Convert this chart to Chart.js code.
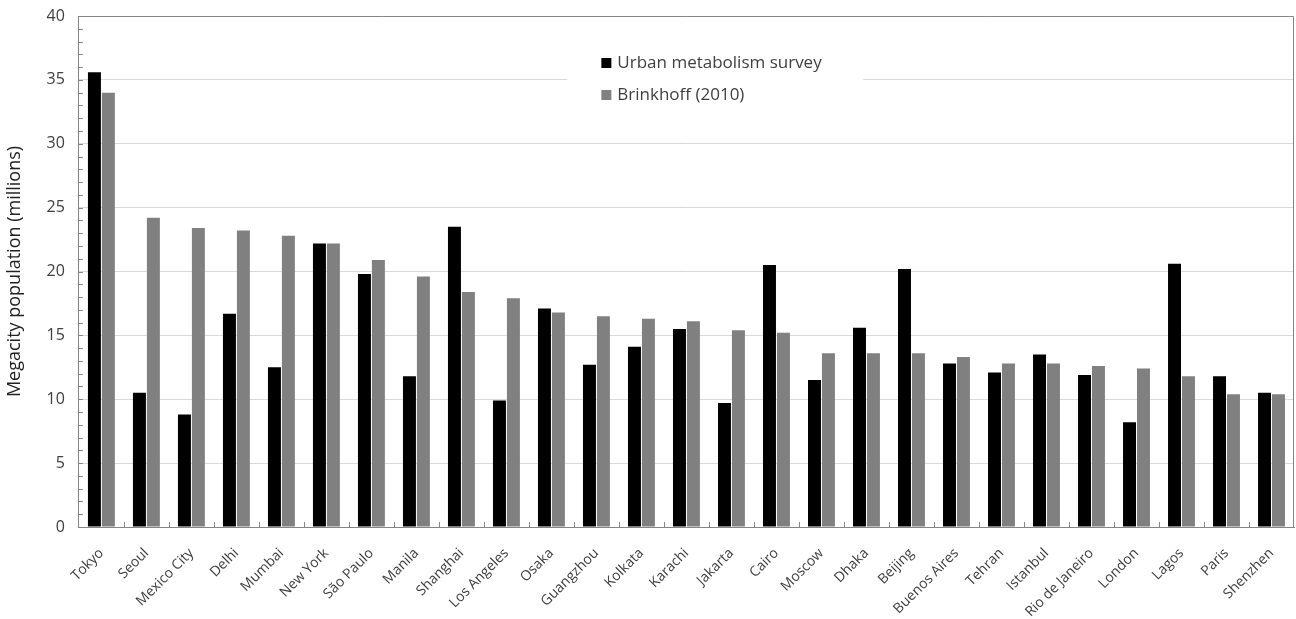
<!DOCTYPE html>
<html lang="en">
<head>
<meta charset="UTF-8">
<title>Megacity population</title>
<script src="https://cdn.jsdelivr.net/npm/chart.js@4.4.0/dist/chart.umd.min.js"></script>
<style>
  body { margin: 0; background: #fff; }
  #wrap { position: relative; width: 1296px; height: 619px; }
</style>
</head>
<body>
<div id="wrap"><canvas id="myChart"></canvas></div>
<script>
const cities = ['Tokyo', 'Seoul', 'Mexico City', 'Delhi', 'Mumbai', 'New York', 'São Paulo', 'Manila',
  'Shanghai', 'Los Angeles', 'Osaka', 'Guangzhou', 'Kolkata', 'Karachi', 'Jakarta', 'Cairo', 'Moscow',
  'Dhaka', 'Beijing', 'Buenos Aires', 'Tehran', 'Istanbul', 'Rio de Janeiro', 'London', 'Lagos', 'Paris', 'Shenzhen'];
const surveyPop = [35.6, 10.5, 8.8, 16.7, 12.5, 22.2, 19.8, 11.8, 23.5, 9.9, 17.1, 12.7, 14.1, 15.5, 9.7, 20.5,
  11.5, 15.6, 20.2, 12.8, 12.1, 13.5, 11.9, 8.2, 20.6, 11.8, 10.5];
const brinkhoffPop = [34.0, 24.2, 23.4, 23.2, 22.8, 22.2, 20.9, 19.6, 18.4, 17.9, 16.8, 16.5, 16.3, 16.1, 15.4, 15.2,
  13.6, 13.6, 13.6, 13.3, 12.8, 12.8, 12.6, 12.4, 11.8, 10.4, 10.4];
const seriesNames = ['Urban metabolism survey', 'Brinkhoff (2010)'];

const textColor = '#404040';
const fontName = "'Open Sans', sans-serif";

// minor ticks, frame and the in-plot legend
const extras = {
  id: 'extras',
  afterDraw(chart) {
    const ctx = chart.ctx;
    const a = chart.chartArea;
    const x = chart.scales.x, y = chart.scales.y;
    ctx.save();
    ctx.strokeStyle = '#868686';
    ctx.lineWidth = 1;
    // frame top/right
    ctx.beginPath();
    ctx.moveTo(a.left, a.top + 0.5);
    ctx.lineTo(a.right - 0.5, a.top + 0.5);
    ctx.lineTo(a.right - 0.5, a.bottom);
    ctx.stroke();
    // y minor ticks
    ctx.beginPath();
    for (let v = y.min; v <= y.max; v += 1) {
      const py = Math.round(y.getPixelForValue(v)) + 0.5;
      ctx.moveTo(a.left, py);
      ctx.lineTo(a.left + 4, py);
    }
    // x category ticks
    const n = chart.data.labels.length;
    for (let i = 1; i < n; i++) {
      const px = Math.round((x.getPixelForValue(i - 1) + x.getPixelForValue(i)) / 2) + 0.5;
      ctx.moveTo(px, a.bottom);
      ctx.lineTo(px, a.bottom - 5);
    }
    ctx.stroke();

    // legend
    const bx = a.left + 0.402 * a.width;
    const cy0 = a.top + 0.092 * a.height;
    ctx.fillStyle = '#ffffff';
    ctx.fillRect(bx, cy0 - 20, 296, 70);
    ctx.font = '17px ' + fontName;
    ctx.textBaseline = 'middle';
    chart.data.datasets.forEach((ds, i) => {
      const cy = cy0 + i * 32;
      ctx.fillStyle = ds.backgroundColor;
      ctx.fillRect(bx + 34, cy - 5, 10, 10);
      ctx.fillStyle = textColor;
      ctx.fillText(ds.label, bx + 50, cy);
    });
    ctx.restore();
  }
};

new Chart(document.getElementById('myChart'), {
  type: 'bar',
  data: {
    labels: cities,
    datasets: [
      { label: seriesNames[0], data: surveyPop, backgroundColor: '#000000' },
      { label: seriesNames[1], data: brinkhoffPop, backgroundColor: '#808080' }
    ]
  },
  options: {
    responsive: true,
    maintainAspectRatio: false,
    animation: false,
    categoryPercentage: 0.62,
    barPercentage: 0.93,
    layout: { padding: { left: 0, right: 2, top: 0, bottom: 0 } },
    plugins: {
      legend: { display: false },
      tooltip: { enabled: false }
    },
    scales: {
      x: {
        grid: { display: false },
        border: { color: '#868686' },
        afterFit(scale) { scale.height = 92; },
        ticks: {
          color: textColor,
          font: { family: fontName, size: 14 },
          minRotation: 45,
          maxRotation: 45,
          autoSkip: false,
          padding: 10
        }
      },
      y: {
        min: 0,
        max: 40,
        grid: { color: '#d9d9d9', drawTicks: false },
        border: { color: '#868686' },
        afterFit(scale) { scale.paddingTop = 16; },
        ticks: {
          stepSize: 5,
          color: textColor,
          font: { family: fontName, size: 16 },
          padding: 14
        },
        title: {
          display: true,
          text: 'Megacity population (millions)',
          color: '#222',
          font: { family: fontName, size: 18 },
          padding: { bottom: 7 }
        }
      }
    }
  },
  plugins: [extras]
});
</script>
</body>
</html>
